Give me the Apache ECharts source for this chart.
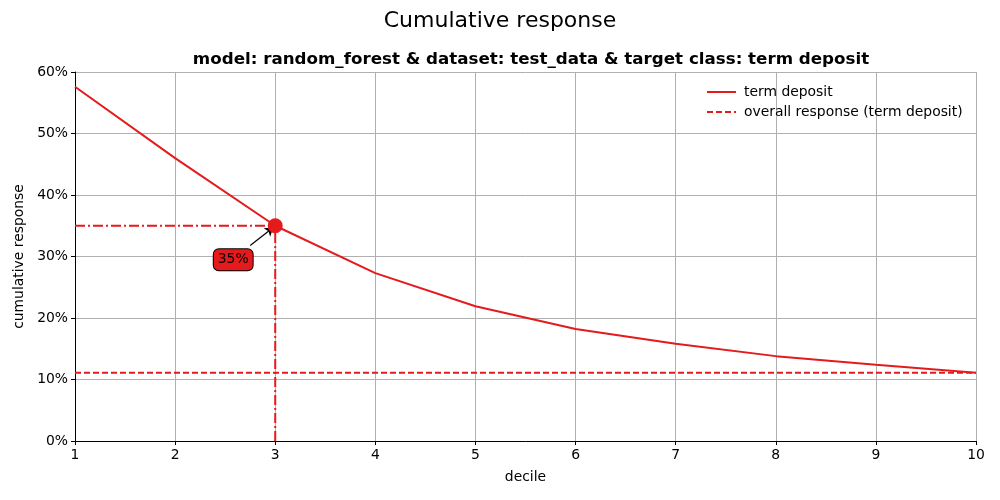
<!DOCTYPE html>
<html><head><meta charset="utf-8">
<script src="https://cdn.jsdelivr.net/npm/echarts@6/dist/echarts.min.js"></script>
<style>html,body{margin:0;padding:0;background:#fff}#c{width:1000px;height:500px}</style>
</head><body><div id="c"></div>
<script>
const deciles = [1,2,3,4,5,6,7,8,9,10];
const cumResponse = [0.576,0.460,0.350,0.273,0.219,0.182,0.158,0.138,0.124,0.111];
const overallResponse = 0.111;
const highlightDecile = 3;

const RED = '#e41a1c';
const FONT = 'DejaVu Sans';
const hv = cumResponse[deciles.indexOf(highlightDecile)];

const chart = echarts.init(document.getElementById('c'));
chart.setOption({
  animation: false,
  textStyle: {fontFamily: FONT},
  title: [
    {text: 'Cumulative response', left: 'center', top: 5, textStyle: {fontFamily: FONT, fontSize: 22, fontWeight: 'normal', color: '#000'}},
    {text: 'model: random_forest & dataset: test_data & target class: term deposit', left: 526, textAlign: 'center', top: 46, textStyle: {fontFamily: FONT, fontSize: 16.7, fontWeight: 'bold', color: '#000'}}
  ],
  legend: {
    orient: 'vertical', left: 701, top: 80, itemGap: 6, itemWidth: 29, itemHeight: 15,
    itemStyle: {opacity: 0},
    textStyle: {fontFamily: FONT, fontSize: 13.9, color: '#000', padding: [0,0,0,3]},
    data: ['term deposit', 'overall response (term deposit)']
  },
  grid: {left: 75, right: 24, top: 72, bottom: 59},
  xAxis: {
    type: 'value', min: 1, max: 10, interval: 1, name: 'decile', nameLocation: 'middle', nameGap: 29,
    nameTextStyle: {fontFamily: FONT, fontSize: 13.9, color: '#000'},
    axisLine: {show: true, lineStyle: {color: '#000'}},
    axisTick: {show: true, length: 4, lineStyle: {color: '#000'}},
    axisLabel: {fontFamily: FONT, fontSize: 13.9, color: '#000', margin: 7},
    splitLine: {show: true, lineStyle: {color: '#b0b0b0'}}
  },
  yAxis: {
    type: 'value', min: 0, max: 0.6, interval: 0.1, name: 'cumulative response', nameLocation: 'middle', nameGap: 47,
    nameTextStyle: {fontFamily: FONT, fontSize: 13.9, color: '#000'},
    axisLine: {show: true, lineStyle: {color: '#000'}},
    axisTick: {show: true, length: 4, lineStyle: {color: '#000'}},
    axisLabel: {fontFamily: FONT, fontSize: 13.9, color: '#000', margin: 7, formatter: v => Math.round(v*100) + '%'},
    splitLine: {show: true, lineStyle: {color: '#b0b0b0'}}
  },
  series: [
    {name: 'term deposit', type: 'line', showSymbol: false, symbol: 'none', z: 3,
     lineStyle: {color: RED, width: 2}, itemStyle: {color: RED},
     data: deciles.map((d,i) => [d, cumResponse[i]])},
    {name: 'overall response (term deposit)', type: 'line', showSymbol: false, symbol: 'none', z: 3,
     lineStyle: {color: RED, width: 2, type: [6,3]}, itemStyle: {color: RED},
     data: deciles.map(d => [d, overallResponse])},
    {name: 'hline', type: 'line', showSymbol: false, symbol: 'none', z: 3,
     lineStyle: {color: RED, width: 2, type: [10,3,2,3]},
     data: [[deciles[0], hv], [highlightDecile, hv]]},
    {name: 'vline', type: 'line', showSymbol: false, symbol: 'none', z: 3,
     lineStyle: {color: RED, width: 2, type: [10,3,2,3]},
     data: [[highlightDecile, 0], [highlightDecile, hv]]},
    {name: 'point', type: 'scatter', symbolSize: 15, z: 5,
     itemStyle: {color: RED, opacity: 1},
     label: {show: true, position: 'inside', offset: [-42, 34], formatter: () => Math.round(hv*100) + '%',
       fontFamily: FONT, fontSize: 13.9, color: '#000', backgroundColor: RED, borderColor: '#000', borderWidth: 1,
       borderRadius: 5, padding: [4, 4, 3, 4]},
     markLine: {silent: true, symbol: ['none', 'arrow'], symbolSize: 8, label: {show: false},
       lineStyle: {color: '#000', width: 1.2, type: 'solid'},
       data: [[{coord: [highlightDecile - 0.25, hv - 0.032]}, {coord: [highlightDecile - 0.02, hv - 0.003]}]]},
     data: [[highlightDecile, hv]]}
  ]
});
</script></body></html>
